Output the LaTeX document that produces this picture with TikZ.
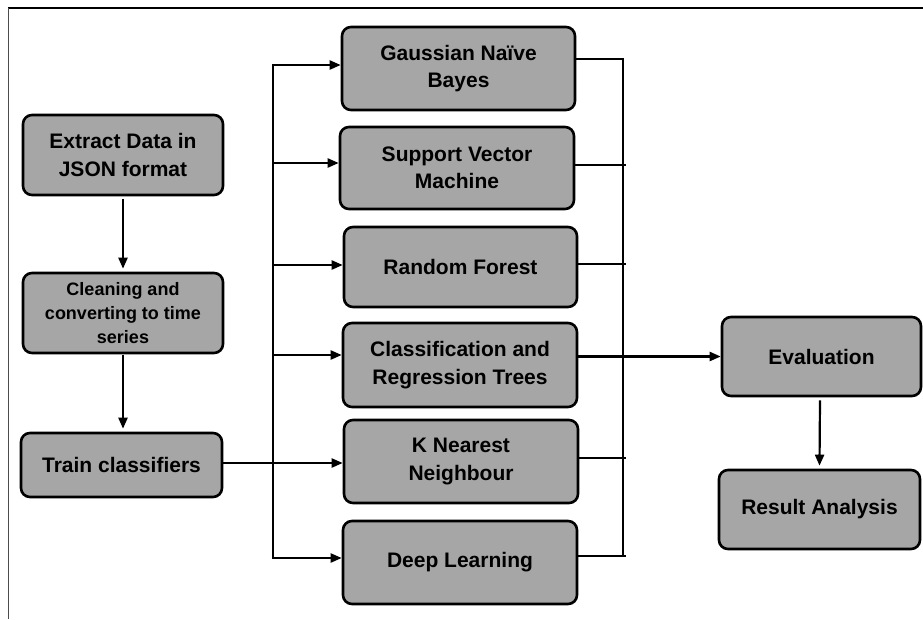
\documentclass[tikz,border=0pt]{standalone}
\usepackage{fontspec}
\setmainfont{Liberation Sans}
\usetikzlibrary{arrows.meta,calc}
\definecolor{boxfill}{HTML}{A6A6A6}
\begin{document}
\begin{tikzpicture}[x=1pt,y=-1pt,
  procbox/.style={draw=black,line width=2.6pt,fill=boxfill,rounded corners=9pt,
    align=center,inner sep=0pt,font=\bfseries\fontsize{21}{27.5}\selectfont},
  conn/.style={line width=2.2pt,draw=black},
  arr/.style={conn,-{Triangle[length=11pt,width=9pt]}}
]
\useasboundingbox (0,0) rectangle (923,619);
% frame
\draw[line width=1.3pt] (8,8) -- (923,8);
\draw[line width=1pt,draw=black!70] (8,8) -- (8,619);

% left column
\node[procbox,minimum width=200pt,minimum height=80pt] (ext) at (123,155) {Extract Data in\\JSON format};
\node[procbox,minimum width=200pt,minimum height=80pt,font=\bfseries\fontsize{18}{24}\selectfont] (clean) at (123,313) {Cleaning and\\converting to time\\series};
\node[procbox,minimum width=201pt,minimum height=64pt] (train) at (121.5,465) {Train classifiers};

% classifiers
\node[procbox,minimum width=233pt,minimum height=83pt] (gnb) at (458.5,68.5) {Gaussian Naïve\\Bayes};
\node[procbox,minimum width=234pt,minimum height=82pt] (svm) at (457,168) {Support Vector\\Machine};
\node[procbox,minimum width=233pt,minimum height=80pt] (rf) at (460.5,267) {Random Forest};
\node[procbox,minimum width=234pt,minimum height=84pt] (cart) at (460,365) {Classification and\\Regression Trees};
\node[procbox,minimum width=234pt,minimum height=83pt] (knn) at (461,461.5) {K Nearest\\Neighbour};
\node[procbox,minimum width=234pt,minimum height=83pt] (dl) at (460,562.5) {Deep Learning};

% right column
\node[procbox,minimum width=199pt,minimum height=79pt] (eval) at (821.5,356.5) {Evaluation};
\node[procbox,minimum width=201pt,minimum height=79pt] (res) at (819.5,509.5) {Result Analysis};

% bus coordinates
\coordinate (bl) at (273,0);
\coordinate (br) at (623,0);

% left flow
\draw[arr] ([yshift=-3pt]ext.south) -- ([yshift=3pt]clean.north);
\draw[arr] ([yshift=-1pt]clean.south) -- ([yshift=3pt]clean.south |- train.north);

% fan-out
\coordinate (gin) at ([yshift=3.5pt]gnb.west);
\coordinate (sin) at ([yshift=5pt]svm.west);
\coordinate (rin) at ([yshift=2pt]rf.west);
\coordinate (cin) at ([yshift=10pt]cart.west);
\coordinate (din) at ([yshift=4.5pt]dl.west);
\coordinate (tout) at ([yshift=2pt]train.east);
\draw[conn] (bl |- gin) -- (bl |- din);
\draw[arr] ([xshift=-1.1pt]bl |- gin) -- (gin);
\draw[arr] (bl |- sin) -- (sin);
\draw[arr] (bl |- rin) -- (rin);
\draw[arr] (bl |- cin) -- (cin);
\draw[arr] ([xshift=-1.1pt]bl |- din) -- (din);
\draw[arr] (tout) -- (tout -| knn.west);

% fan-in
\coordinate (gout) at ([yshift=9.5pt]gnb.east);
\coordinate (sout) at ([yshift=3pt]svm.east);
\coordinate (rout) at ([yshift=3pt]rf.east);
\coordinate (cout) at (cart.east |- eval.west);
\coordinate (kout) at ([yshift=3.5pt]knn.east);
\coordinate (dout) at ([yshift=6.5pt]dl.east);
\draw[conn] (br |- gout) -- (br |- dout);
\draw[conn] (gout) -- ([xshift=1.1pt]br |- gout);
\draw[conn] (sout) -- ([xshift=3pt]br |- sout);
\draw[conn] (rout) -- ([xshift=3pt]br |- rout);
\draw[conn] (cout) -- (br |- cout);
\draw[conn] (kout) -- ([xshift=3pt]br |- kout);
\draw[conn] (dout) -- ([xshift=3pt]br |- dout);
\draw[arr] (br |- eval.west) -- (eval.west);

% evaluation to result
\draw[arr] ([xshift=-1.5pt,yshift=-3pt]eval.south) -- ([yshift=3pt]res.north);
\end{tikzpicture}
\end{document}
